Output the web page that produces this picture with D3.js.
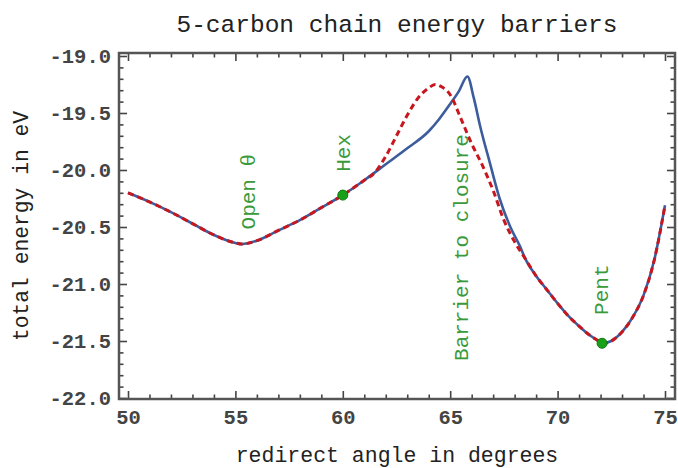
<!DOCTYPE html>
<html>
<head>
<meta charset="utf-8">
<script src="https://cdn.jsdelivr.net/npm/d3@7"></script>
<style>
  html, body { margin: 0; padding: 0; background: #fff; }
  svg { display: block; }
  text { font-family: "Liberation Mono", "DejaVu Sans Mono", monospace; }
</style>
</head>
<body>
<svg id="chart" width="678" height="468"></svg>
<script>
// ---- data ----
const title = "5-carbon chain energy barriers";
const xLabel = "redirect angle in degrees";
const yLabel = "total energy in eV";

const xTicks = [50, 55, 60, 65, 70, 75];
const yTicks = [-19.0, -19.5, -20.0, -20.5, -21.0, -21.5, -22.0];

// solid blue curve (angle, energy)
const blueAngles = [50, 51, 52, 53, 54, 55, 55.3, 56, 57, 58, 59, 60, 61, 62, 63, 64, 64.5, 65, 65.4, 65.8, 66.1, 66.4, 66.85, 67.3, 67.8, 68.25, 68.5, 69, 69.5, 70, 70.5, 71, 71.5, 72, 72.1, 72.5, 73, 73.5, 74, 74.5, 75];
const blueEnergy = [-20.20, -20.28, -20.37, -20.47, -20.57, -20.64, -20.65, -20.62, -20.53, -20.44, -20.33, -20.22, -20.09, -19.95, -19.81, -19.66, -19.55, -19.42, -19.31, -19.18, -19.37, -19.62, -19.94, -20.25, -20.50, -20.67, -20.78, -20.93, -21.05, -21.17, -21.28, -21.37, -21.45, -21.51, -21.52, -21.50, -21.42, -21.29, -21.10, -20.79, -20.31];

// dashed red curve (angle, energy)
const redAngles = [50, 51, 52, 53, 54, 55, 55.3, 56, 57, 58, 59, 60, 61, 61.5, 62, 62.5, 63, 63.5, 64, 64.3, 64.6, 65, 65.5, 66, 66.5, 67, 67.5, 68, 68.5, 69, 69.5, 70, 70.5, 71, 71.5, 72, 72.1, 72.5, 73, 73.5, 74, 74.5, 75];
const redEnergy = [-20.20, -20.28, -20.37, -20.47, -20.57, -20.64, -20.65, -20.62, -20.53, -20.44, -20.33, -20.22, -20.09, -20.02, -19.88, -19.70, -19.52, -19.37, -19.28, -19.25, -19.27, -19.34, -19.55, -19.77, -19.96, -20.18, -20.44, -20.63, -20.78, -20.93, -21.05, -21.17, -21.28, -21.37, -21.45, -21.51, -21.52, -21.50, -21.42, -21.29, -21.10, -20.79, -20.31];

// marked points
const dotAngles = [60, 72.07];
const dotEnergy = [-20.22, -21.52];

// rotated annotations
const noteTexts = ["Open \u03b8", "Hex", "Barrier to closure", "Pent"];
const noteAngles = [55.57, 59.97, 65.5, 72.0];
const noteEnergy = [-20.19, -19.85, -20.68, -21.05];

// ---- drawing ----
const svg = d3.select("#chart");

const x = d3.scaleLinear().domain([50, 75]).range([128, 665]);
const y = d3.scaleLinear().domain([-19, -22]).range([56, 398]);

const frame = { left: 119, right: 675, top: 53, bottom: 399 };

// title
svg.append("text")
  .attr("x", (frame.left + frame.right) / 2)
  .attr("y", 32)
  .attr("text-anchor", "middle")
  .attr("font-size", 24.5)
  .attr("fill", "#222")
  .text(title);

// axes label
svg.append("text")
  .attr("x", (frame.left + frame.right) / 2)
  .attr("y", 462)
  .attr("text-anchor", "middle")
  .attr("font-size", 21.5)
  .attr("fill", "#222")
  .text(xLabel);

svg.append("text")
  .attr("transform", `translate(28,${(frame.top + frame.bottom) / 2}) rotate(-90)`)
  .attr("text-anchor", "middle")
  .attr("font-size", 21.3)
  .attr("fill", "#222")
  .text(yLabel);

// ticks
const minorX = d3.range(50, 75.001, 1).filter(v => xTicks.indexOf(v) < 0);
const minorY = d3.range(0, 31).map(i => -19 - i * 0.1).filter(v => !yTicks.some(t => Math.abs(t - v) < 1e-6));

function styleAxis(g) {
  g.select(".domain").remove();
  g.selectAll(".tick line").attr("stroke", "#444").attr("stroke-width", 1.6);
  g.selectAll(".tick text")
    .attr("font-family", "'Liberation Mono', monospace")
    .attr("font-weight", "bold")
    .attr("font-size", 20.5)
    .attr("fill", "#444");
}

// bottom
svg.append("g").attr("transform", `translate(0,${frame.bottom})`)
  .call(d3.axisBottom(x).tickValues(xTicks).tickSize(-8).tickPadding(10).tickFormat(d => String(d)))
  .call(styleAxis);
svg.append("g").attr("transform", `translate(0,${frame.bottom})`)
  .call(d3.axisBottom(x).tickValues(minorX).tickSize(-4.5).tickFormat(""))
  .call(styleAxis);
// top
svg.append("g").attr("transform", `translate(0,${frame.top})`)
  .call(d3.axisTop(x).tickValues(xTicks).tickSize(-8).tickFormat(""))
  .call(styleAxis);
svg.append("g").attr("transform", `translate(0,${frame.top})`)
  .call(d3.axisTop(x).tickValues(minorX).tickSize(-4.5).tickFormat(""))
  .call(styleAxis);
// left
svg.append("g").attr("transform", `translate(${frame.left},0)`)
  .call(d3.axisLeft(y).tickValues(yTicks).tickSize(-8).tickPadding(8).tickFormat(d => d.toFixed(1)))
  .call(styleAxis);
svg.append("g").attr("transform", `translate(${frame.left},0)`)
  .call(d3.axisLeft(y).tickValues(minorY).tickSize(-4.5).tickFormat(""))
  .call(styleAxis);
// right
svg.append("g").attr("transform", `translate(${frame.right},0)`)
  .call(d3.axisRight(y).tickValues(yTicks).tickSize(-8).tickFormat(""))
  .call(styleAxis);
svg.append("g").attr("transform", `translate(${frame.right},0)`)
  .call(d3.axisRight(y).tickValues(minorY).tickSize(-4.5).tickFormat(""))
  .call(styleAxis);

// frame
svg.append("rect")
  .attr("x", frame.left).attr("y", frame.top)
  .attr("width", frame.right - frame.left).attr("height", frame.bottom - frame.top)
  .attr("fill", "none").attr("stroke", "#555").attr("stroke-width", 2.5);

// curves
const line = d3.line().x(d => x(d[0])).y(d => y(d[1])).curve(d3.curveMonotoneX);
const bluePts = blueAngles.map((a, i) => [a, blueEnergy[i]]);
const redPts = redAngles.map((a, i) => [a, redEnergy[i]]);

svg.append("path").attr("d", line(bluePts))
  .attr("fill", "none").attr("stroke", "#3d5c9c").attr("stroke-width", 2.6)
  .attr("stroke-linejoin", "round");
svg.append("path").attr("d", line(redPts))
  .attr("fill", "none").attr("stroke", "#c8161e").attr("stroke-width", 3)
  .attr("stroke-dasharray", "6,4");

// annotations
noteTexts.forEach((t, i) => {
  svg.append("text")
    .attr("transform", `translate(${x(noteAngles[i])},${y(noteEnergy[i])}) rotate(-90)`)
    .attr("text-anchor", "middle")
    .attr("dy", "0.35em")
    .attr("font-size", 21)
    .attr("fill", "#3a9a3a")
    .text(t);
});

// dots
svg.selectAll("circle.pt").data(dotAngles.map((a, i) => [a, dotEnergy[i]]))
  .enter().append("circle").attr("class", "pt")
  .attr("cx", d => x(d[0])).attr("cy", d => y(d[1])).attr("r", 5)
  .attr("fill", "#19a019").attr("stroke", "#0e7a0e").attr("stroke-width", 1);
</script>
</body>
</html>
